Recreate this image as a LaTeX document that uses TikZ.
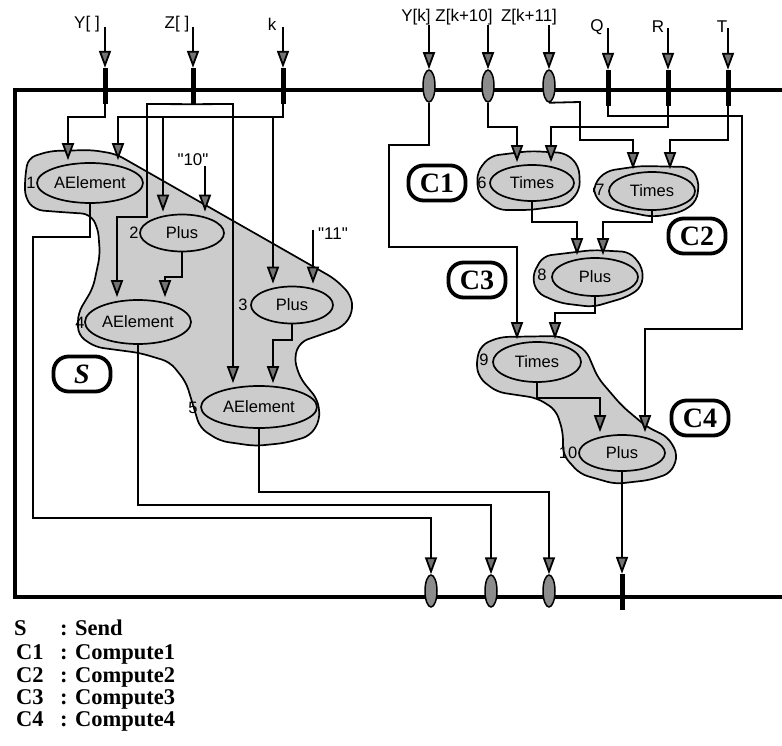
\documentclass[tikz,border=0pt]{standalone}
\usepackage{fontspec}
\setmainfont{Liberation Serif}
\newfontfamily\sansf{Liberation Sans}
\usetikzlibrary{arrows.meta,shapes.geometric,backgrounds}
\newcommand\opfont{\sansf\fontsize{16.5}{18}\selectfont}
\newcommand\inpfont{\sansf\fontsize{17}{19}\selectfont}
\newcommand\lbfont{\bfseries\fontsize{28}{30}\selectfont}
\newcommand\lgfont{\bfseries\fontsize{22.5}{24}\selectfont}
\begin{document}
\begin{tikzpicture}[x=1pt,y=-1pt,
  arr/.style={line width=1.8pt,-{Triangle[length=17pt,width=12pt,fill=black!55]}},
  arre/.style={arr,shorten >=2pt},
  op/.style={ellipse,draw,line width=1.7pt,fill=black!20,inner sep=0pt,font=\opfont},
  num/.style={font=\opfont,inner sep=0pt},
  inlab/.style={font=\inpfont,inner sep=0pt},
  portov/.style={ellipse,draw,line width=1.5pt,fill=black!45,minimum width=12pt,minimum height=32pt,inner sep=0pt},
  portbar/.style={rectangle,fill=black,minimum width=5pt,minimum height=36pt,inner sep=0pt},
  gbox/.style={draw,line width=3.8pt,rounded corners=15pt,minimum width=57pt,minimum height=35pt,inner sep=0pt,font=\lbfont},
  blob/.style={draw,line width=1.7pt,fill=black!20,rounded corners=8pt},
  legend/.style={font=\lgfont,anchor=base west,inner sep=0pt},
  frame/.style={line width=3.5pt}
]
\useasboundingbox (0,0) rectangle (782,746);

% frame
\draw[frame] (782,90) -- (15,90) -- (15,597) -- (782,597);

% operation nodes
\node[op,minimum width=106pt,minimum height=40pt] (ae1) at (90,183) {AElement};
\node[op,minimum width=84pt,minimum height=37pt] (p2) at (182,233) {Plus};
\node[op,minimum width=106pt,minimum height=44pt] (ae4) at (138,322) {AElement};
\node[op,minimum width=82pt,minimum height=37pt] (p3) at (292,305) {Plus};
\node[op,minimum width=116pt,minimum height=42pt] (ae5) at (259,407) {AElement};
\node[op,minimum width=84pt,minimum height=36pt] (t6) at (532,183) {Times};
\node[op,minimum width=86pt,minimum height=38pt] (t7) at (652,191) {Times};
\node[op,minimum width=86pt,minimum height=38pt] (p8) at (595,277) {Plus};
\node[op,minimum width=88pt,minimum height=40pt] (t9) at (537,362) {Times};
\node[op,minimum width=86pt,minimum height=36pt] (p10) at (622,453) {Plus};

% numbers
\node[num] (n1) at (31,183) {1};
\node[num] (n2) at (134,233) {2};
\node[num] (n3) at (243,305) {3};
\node[num] (n4) at (80,323) {4};
\node[num] (n5) at (193,408) {5};
\node[num] (n6) at (482,183) {6};
\node[num] (n7) at (600,190) {7};
\node[num] (n8) at (542,275) {8};
\node[num] (n9) at (484,360) {9};
\node[num] (n10) at (568,453) {10};

% ports
\node[portbar] (pY) at (105,86) {};
\node[portbar] (pZ) at (193,86) {};
\node[portbar] (pk) at (283,86) {};
\node[portov] (pYk) at (429,86) {};
\node[portov] (pZa) at (488,86) {};
\node[portov] (pZb) at (549,86) {};
\node[portbar] (pQ) at (608,88) {};
\node[portbar] (pR) at (668,88) {};
\node[portbar] (pT) at (728,88) {};
\node[portov] (o1) at (431,591) {};
\node[portov] (o2) at (491,591) {};
\node[portov] (o3) at (549,591) {};
\node[portbar] (o4) at (622,592) {};

% input labels
\node[inlab] (lY) at (87,24) {Y[ ]};
\node[inlab] (lZ) at (177,24) {Z[ ]};
\node[inlab] (lk) at (272,24) {k};
\node[inlab] (lYk) at (416,17) {Y[k]};
\node[inlab] (lZa) at (464,17) {Z[k+10]};
\node[inlab] (lZb) at (529,17) {Z[k+11]};
\node[inlab] (lQ) at (597,27) {Q};
\node[inlab] (lR) at (658,27) {R};
\node[inlab] (lT) at (722,27) {T};
\node[inlab] (l10) at (193,160) {"10"};
\node[inlab] (l11) at (333,234) {"11"};

\coordinate (sY) at (105,27);
\coordinate (sZ) at (193,27);
\coordinate (sk) at (283,27);
\coordinate (sYk) at (429,25);
\coordinate (sZa) at (488,25);
\coordinate (sZb) at (549,25);
\coordinate (sQ) at (608,28);
\coordinate (sR) at (668,28);
\coordinate (sT) at (728,28);
\coordinate (s10) at (205,166);
\coordinate (s11) at (313,230);
\coordinate (kj1) at (163,117);
\coordinate (kj2) at (273,117);

% input arrows
\foreach \s/\p in {sY/pY,sZ/pZ,sk/pk,sYk/pYk,sZa/pZa,sZb/pZb,sQ/pQ,sR/pR,sT/pT}
  \draw[arr] (\s) -- (\p.north);

% left side connectors
\draw[arre] (pY.south) -- (105,117) -- (68,117) -- (68,0 |- ae1.north);
\draw[arre] (pk.south) -- (283,117) -- (118,117) -- (118,0 |- ae1.north);
\draw[arre] (kj1) -- (kj1 |- p2.north);
\draw[arre] (kj2) -- (kj2 |- p3.north);
\draw[arre] (pZ.south) -- (147,104) -- (147,217) -- (117,217) -- (117,0 |- ae4.north);
\draw[arre] (pZ.south) -- (233,104) -- (233,0 |- ae5.north);
\draw[arre] (s10) -- (s10 |- p2.north);
\draw[arre] (s11) -- (s11 |- p3.north);
\draw[arre] (p2.south) -- (182,277) -- (165,277) -- (165,0 |- ae4.north);
\draw[arre] (p3.south) -- (292,340) -- (273,340) -- (273,0 |- ae5.north);

% outputs
\draw[arr] (ae1.south) -- (90,237) -- (33,237) -- (33,518) -| (o1.north);
\draw[arr] (ae4.south) -- (138,505) -| (o2.north);
\draw[arr] (ae5.south) -- (259,492) -| (o3.north);

% right side connectors
\draw[arre] (pYk.south) -- (429,145) -- (389,145) -- (389,247) -- (517,247) -- (517,0 |- t9.north);
\draw[arre] (pZa.south) -- (488,127) -- (517,127) -- (517,0 |- t6.north);
\draw[arre] (pZb.south) -- (580,102) -- (580,140) -- (633,140) -- (633,0 |- t7.north);
\draw[arre] (pQ.south) -- (608,116) -- (742,116) -- (742,329) -- (645,329) -- (645,0 |- p10.north);
\draw[arre] (pR.south) -- (668,127) -- (551,127) -- (551,0 |- t6.north);
\draw[arre] (pT.south) -- (728,140) -- (670,140) -- (670,0 |- t7.north);
\draw[arre] (t6.south) -- (532,222) -- (577,222) -- (577,0 |- p8.north);
\draw[arre] (t7.south) -- (652,222) -- (603,222) -- (603,0 |- p8.north);
\draw[arre] (p8.south) -- (595,313) -- (555,313) -- (555,0 |- t9.north);
\draw[arre] (t9.south) -- (537,398) -- (600,398) -- (600,0 |- p10.north);
\draw[arr] (p10.south) -- (o4.north);

% group boxes
\node[gbox] (bS) at (82,374) {\itshape S};
\node[gbox] (bC1) at (437,183) {C1};
\node[gbox] (bC2) at (697,236) {C2};
\node[gbox] (bC3) at (477,280) {C3};
\node[gbox] (bC4) at (700,418) {C4};

% blobs
\begin{scope}[on background layer]
\draw[blob] (25,178) -- (28,158) -- (50,151) -- (92,150) -- (116,154) -- (335,279) -- (351,295) -- (353,312) -- (343,327) -- (300,342) -- (294,358) -- (300,378) -- (318,400) -- (320,420) -- (310,436) -- (285,443) -- (255,446) -- (220,441) -- (200,428) -- (193,405) -- (186,382) -- (170,362) -- (140,353) -- (95,347) -- (78,335) -- (78,313) -- (93,288) -- (100,255) -- (98,228) -- (90,214) -- (60,212) -- (35,210) -- (25,198) -- cycle;
\draw[blob] (477,172) -- (490,156) -- (530,151) -- (566,153) -- (579,166) -- (580,190) -- (567,205) -- (530,210) -- (498,210) -- (478,194) -- cycle;
\draw[blob] (594,184) -- (606,171) -- (640,166) -- (690,167) -- (699,180) -- (697,201) -- (682,212) -- (653,217) -- (607,208) -- (594,196) -- cycle;
\draw[blob] (532,276) -- (543,256) -- (593,250) -- (630,252) -- (643,268) -- (642,287) -- (627,297) -- (593,307) -- (560,303) -- (537,293) -- cycle;
\draw[blob] (476,362) -- (481,345) -- (500,337) -- (560,336) -- (586,350) -- (598,378) -- (622,406) -- (647,427) -- (668,437) -- (678,455) -- (671,473) -- (650,480) -- (615,484) -- (580,474) -- (563,455) -- (563,432) -- (556,410) -- (537,398) -- (497,392) -- (479,378) -- cycle;
\end{scope}

% legend
\node[legend] (gS) at (14,635) {S};
\node[legend] (gSd) at (60,635) {: Send};
\node[legend] (g1) at (16,659) {C1};
\node[legend] (g1d) at (60,659) {: Compute1};
\node[legend] (g2) at (16,682) {C2};
\node[legend] (g2d) at (60,682) {: Compute2};
\node[legend] (g3) at (16,704) {C3};
\node[legend] (g3d) at (60,704) {: Compute3};
\node[legend] (g4) at (16,726) {C4};
\node[legend] (g4d) at (60,726) {: Compute4};
\end{tikzpicture}
\end{document}
